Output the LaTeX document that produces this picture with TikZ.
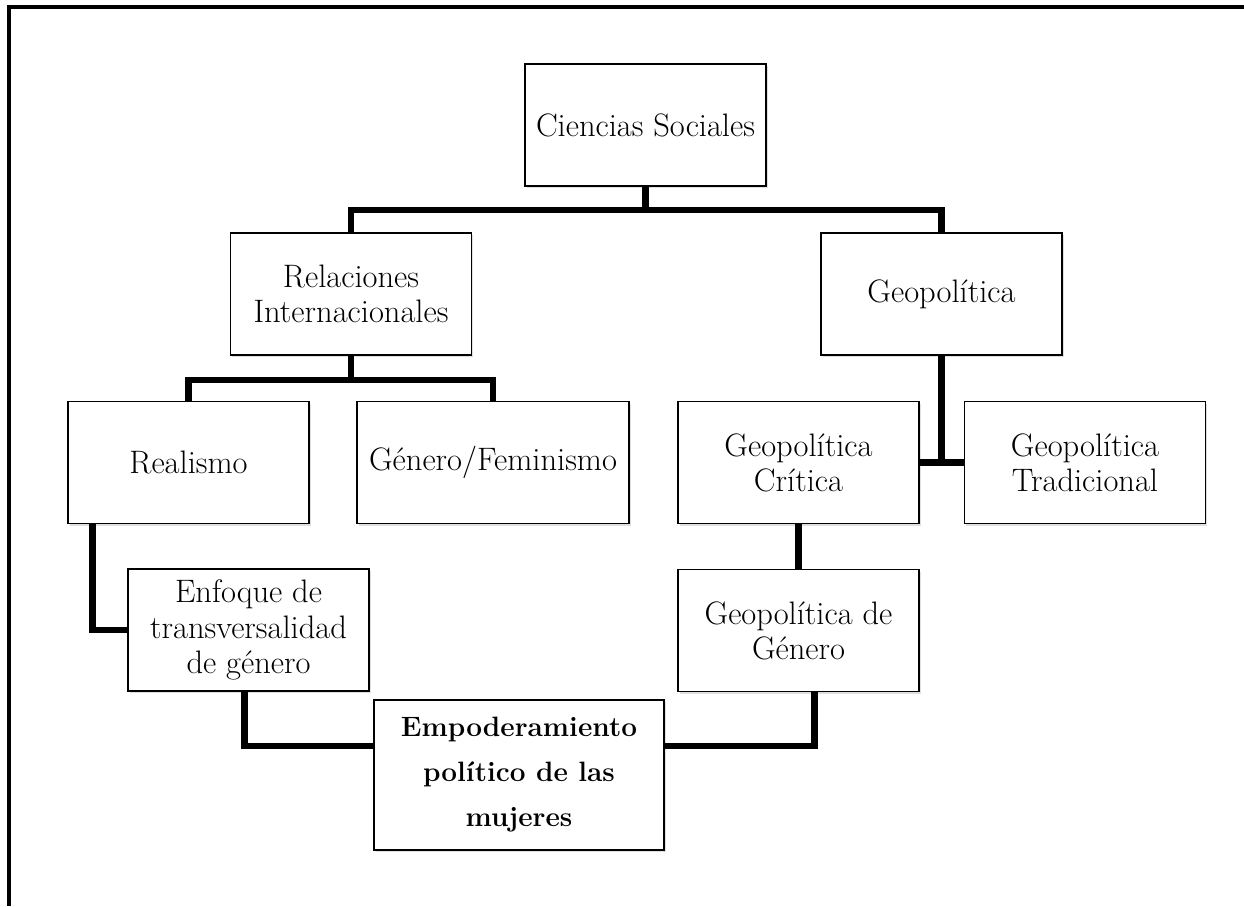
\documentclass[tikz,border=0pt]{standalone}
\usetikzlibrary{shadows}
\begin{document}
\begin{tikzpicture}[x=1pt,y=-1pt,
  box/.style={draw=black, line width=1.6pt, fill=white, align=center,
    minimum width=241pt, minimum height=122pt, inner sep=2pt,
    font=\fontsize{32.5}{35}\selectfont,
    drop shadow={opacity=0.25, shadow xshift=1.5pt, shadow yshift=-2pt}},
  conn/.style={line width=6.5pt, draw=black},
  frame/.style={line width=4.5pt, draw=black}]
\useasboundingbox (0,0) rectangle (1244,906);
\draw[frame] (9,906) -- (9,7) -- (1244,7);

\node[box] (cs)   at (645.5,125) {Ciencias Sociales};
\node[box] (rel)  at (351,294) {Relaciones\\Internacionales};
\node[box] (geo)  at (941.5,294) {Geopolítica};
\node[box] (real) at (188.5,462.5) {Realismo};
\node[box, minimum width=272pt] (gen) at (493,462.5) {Género/Feminismo};
\node[box] (crit) at (798.5,462.5) {Geopolítica\\Crítica};
\node[box] (trad) at (1085,462.5) {Geopolítica\\Tradicional};
\node[box, font=\fontsize{32.5}{35.5}\selectfont] (enf) at (248.5,630) {Enfoque de\\transversalidad\\de género};
\node[box] (gg) at (798.5,630.5) {Geopolítica de\\Género};
\node[box, minimum width=290pt, minimum height=150pt, font=\fontsize{28}{45}\selectfont\bfseries] (emp) at (519,775) {Empoderamiento\\político de las\\mujeres};

\coordinate (b1) at (645.5,210);
\coordinate (b2) at (351,380);
\draw[conn] (cs.south) -- (b1);
\draw[conn] (rel.north) |- (b1) -| (geo.north);
\draw[conn] (rel.south) -- (b2);
\draw[conn] (real.north) |- (b2) -| (gen.north);
\draw[conn] (geo.south) -- (geo.south |- crit.east);
\draw[conn] (crit.east) -- (trad.west);
\draw[conn] (crit.south) -- (gg.north);
\draw[conn] ([xshift=-96pt]real.south) |- (enf.west);
\draw[conn] ([xshift=-4pt]enf.south) |- ([yshift=29pt]emp.west);
\draw[conn] ([xshift=16pt]gg.south) |- ([yshift=29pt]emp.east);
\end{tikzpicture}
\end{document}
